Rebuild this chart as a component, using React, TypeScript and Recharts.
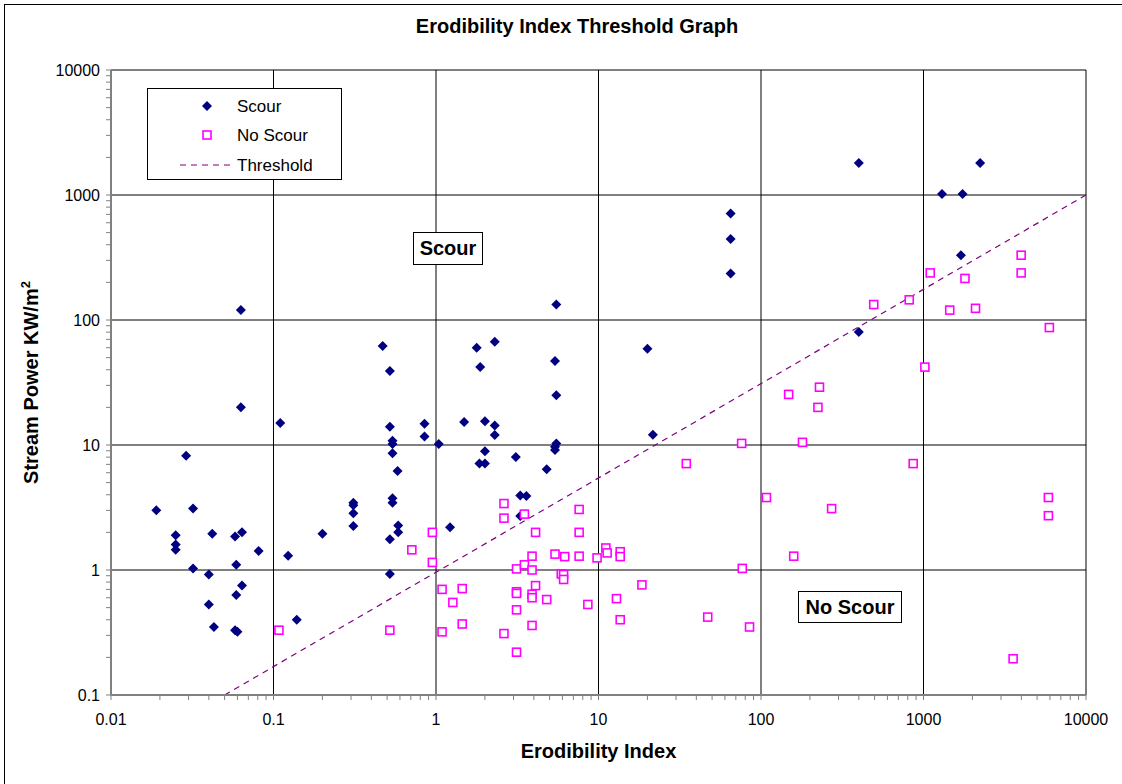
import React from "react";
import { ReferenceLine, Scatter, ScatterChart, XAxis, YAxis } from "recharts";

// Erodibility index (x) vs stream power (y)
const scour = [
  { x: 0.11, y: 15 }, { x: 0.029, y: 8.2 }, { x: 0.019, y: 3.0 }, { x: 0.032, y: 3.1 },
  { x: 0.025, y: 1.9 }, { x: 0.025, y: 1.6 }, { x: 0.025, y: 1.45 }, { x: 0.042, y: 1.95 },
  { x: 0.058, y: 1.85 }, { x: 0.064, y: 2.0 }, { x: 0.081, y: 1.42 }, { x: 0.123, y: 1.3 },
  { x: 0.2, y: 1.95 }, { x: 0.032, y: 1.03 }, { x: 0.059, y: 1.1 }, { x: 0.04, y: 0.92 },
  { x: 0.064, y: 0.75 }, { x: 0.059, y: 0.63 }, { x: 0.04, y: 0.53 }, { x: 0.139, y: 0.4 },
  { x: 0.043, y: 0.35 }, { x: 0.058, y: 0.33 }, { x: 0.06, y: 0.32 }, { x: 0.063, y: 120 },
  { x: 0.063, y: 20 }, { x: 0.47, y: 62 }, { x: 0.52, y: 39 }, { x: 1.78, y: 60 },
  { x: 2.3, y: 67 }, { x: 1.87, y: 42 }, { x: 0.52, y: 14 }, { x: 0.85, y: 14.8 },
  { x: 0.85, y: 11.7 }, { x: 0.54, y: 10.8 }, { x: 0.54, y: 10.2 }, { x: 0.54, y: 8.6 },
  { x: 0.58, y: 6.2 }, { x: 1.04, y: 10.2 }, { x: 1.49, y: 15.3 }, { x: 2.0, y: 15.5 },
  { x: 2.3, y: 14.3 }, { x: 2.3, y: 12 }, { x: 2.0, y: 8.9 }, { x: 1.85, y: 7.1 },
  { x: 2.0, y: 7.1 }, { x: 3.1, y: 8 }, { x: 0.31, y: 3.45 }, { x: 0.31, y: 3.3 },
  { x: 0.31, y: 2.85 }, { x: 0.31, y: 2.25 }, { x: 0.54, y: 3.75 }, { x: 0.54, y: 3.45 },
  { x: 0.585, y: 2.27 }, { x: 0.585, y: 2.0 }, { x: 0.52, y: 1.76 }, { x: 0.52, y: 0.93 },
  { x: 1.22, y: 2.2 }, { x: 3.3, y: 3.95 }, { x: 3.6, y: 3.9 }, { x: 3.3, y: 2.7 },
  { x: 5.5, y: 133 }, { x: 5.4, y: 47 }, { x: 5.5, y: 25 }, { x: 5.5, y: 10.3 },
  { x: 5.4, y: 9.7 }, { x: 5.4, y: 9.1 }, { x: 4.8, y: 6.4 }, { x: 20, y: 59 },
  { x: 21.6, y: 12.1 }, { x: 65, y: 710 }, { x: 65, y: 445 }, { x: 65, y: 235 },
  { x: 400, y: 1800 }, { x: 2230, y: 1800 }, { x: 1300, y: 1020 }, { x: 1740, y: 1020 },
  { x: 1700, y: 330 }, { x: 400, y: 80 },
];

const noScour = [
  { x: 0.108, y: 0.33 }, { x: 0.95, y: 2.0 }, { x: 0.71, y: 1.45 }, { x: 0.95, y: 1.15 },
  { x: 0.52, y: 0.33 }, { x: 1.09, y: 0.7 }, { x: 1.45, y: 0.71 }, { x: 1.27, y: 0.55 },
  { x: 1.45, y: 0.37 }, { x: 1.09, y: 0.32 }, { x: 2.62, y: 3.4 }, { x: 2.62, y: 2.6 },
  { x: 2.62, y: 0.31 }, { x: 3.13, y: 0.22 }, { x: 3.13, y: 1.02 }, { x: 3.13, y: 0.67 },
  { x: 3.13, y: 0.65 }, { x: 3.13, y: 0.48 }, { x: 3.5, y: 2.8 }, { x: 3.5, y: 1.1 },
  { x: 7.6, y: 3.05 }, { x: 7.6, y: 2.0 }, { x: 7.6, y: 1.29 }, { x: 4.1, y: 2.0 },
  { x: 3.9, y: 1.29 }, { x: 3.9, y: 1.0 }, { x: 4.1, y: 0.75 }, { x: 3.9, y: 0.64 },
  { x: 3.9, y: 0.6 }, { x: 3.9, y: 0.36 }, { x: 4.8, y: 0.58 }, { x: 5.4, y: 1.34 },
  { x: 6.2, y: 1.28 }, { x: 5.9, y: 0.93 }, { x: 6.1, y: 0.92 }, { x: 6.1, y: 0.84 },
  { x: 8.6, y: 0.53 }, { x: 9.8, y: 1.25 }, { x: 11.1, y: 1.5 }, { x: 11.3, y: 1.37 },
  { x: 13.6, y: 1.4 }, { x: 13.6, y: 1.28 }, { x: 18.5, y: 0.76 }, { x: 12.9, y: 0.59 },
  { x: 13.6, y: 0.4 }, { x: 47, y: 0.42 }, { x: 34.7, y: 7.1 }, { x: 494, y: 133 },
  { x: 817, y: 145 }, { x: 1100, y: 238 }, { x: 1800, y: 215 }, { x: 1450, y: 120 },
  { x: 2090, y: 124 }, { x: 3990, y: 330 }, { x: 3990, y: 238 }, { x: 5950, y: 87 },
  { x: 1020, y: 42 }, { x: 148, y: 25.4 }, { x: 229, y: 29 }, { x: 224, y: 20 },
  { x: 76, y: 10.3 }, { x: 180, y: 10.5 }, { x: 864, y: 7.1 }, { x: 108, y: 3.8 },
  { x: 272, y: 3.1 }, { x: 5870, y: 3.8 }, { x: 5870, y: 2.72 }, { x: 159, y: 1.29 },
  { x: 76.7, y: 1.03 }, { x: 85, y: 0.35 }, { x: 3560, y: 0.195 },
];

// threshold line end points
const threshold = [
  { x: 0.05, y: 0.1 },
  { x: 10000, y: 1000 },
];

const xMajor = [0.01, 0.1, 1, 10, 100, 1000, 10000];
const yMajor = [0.1, 1, 10, 100, 1000, 10000];
const minorSteps = [2, 3, 4, 5, 6, 7, 8, 9];

const withMinor = (major: number[]) => {
  const out: number[] = [];
  major.forEach((m, i) => {
    out.push(m);
    if (i < major.length - 1) minorSteps.forEach((s) => out.push(+(m * s).toPrecision(3)));
  });
  return out;
};

const xTicks = withMinor(xMajor);
const yTicks = withMinor(yMajor);

const FONT = '"Liberation Sans", Arial, sans-serif';
const NAVY = "#000080";
const PINK = "#FF00FF";
const PURPLE = "#800080";

const Diamond = (props: any) => {
  const { cx, cy } = props;
  if (cx == null || cy == null) return <g />;
  const r = 5;
  return (
    <polygon
      points={`${cx},${cy - r} ${cx + r},${cy} ${cx},${cy + r} ${cx - r},${cy}`}
      fill={NAVY}
    />
  );
};

const Square = (props: any) => {
  const { cx, cy } = props;
  if (cx == null || cy == null) return <g />;
  return (
    <rect x={cx - 4} y={cy - 4} width={8} height={8} fill="#fff" stroke={PINK} strokeWidth={1.6} />
  );
};

const YTitle = (props: any) => {
  const vb = props.viewBox;
  const cx = vb.x + 38;
  const cy = vb.y + vb.height / 2;
  return (
    <text
      x={cx}
      y={cy}
      transform={`rotate(-90, ${cx}, ${cy})`}
      textAnchor="middle"
      fontFamily={FONT}
      fontWeight="bold"
      fontSize={20}
      fill="#000"
    >
      Stream Power KW/m
      <tspan dy={-8} fontSize={13}>
        2
      </tspan>
    </text>
  );
};

const boxText: React.CSSProperties = {
  position: "absolute",
  border: "1.5px solid #000",
  background: "#fff",
  fontFamily: FONT,
  fontWeight: "bold",
  fontSize: 20,
  display: "flex",
  alignItems: "center",
  justifyContent: "center",
  boxSizing: "border-box",
};

export default function App() {
  return (
    <div
      style={{
        position: "absolute",
        left: 0,
        top: 0,
        width: 1122,
        height: 784,
        overflow: "hidden",
        background: "#fff",
        fontFamily: FONT,
      }}
    >
      <div
        style={{
          position: "absolute",
          left: 4,
          top: 4,
          width: 1200,
          height: 900,
          border: "1.5px solid #000",
        }}
      />
      <div
        style={{
          position: "absolute",
          top: 15,
          left: 0,
          width: 1154,
          textAlign: "center",
          fontWeight: "bold",
          fontSize: 20,
        }}
      >
        Erodibility Index Threshold Graph
      </div>
      <ScatterChart
        width={1122}
        height={784}
        margin={{ top: 70, right: 36, bottom: 0, left: 0 }}
        style={{ position: "absolute", left: 0, top: 0, fontFamily: FONT }}
      >
        <XAxis
          type="number"
          dataKey="x"
          scale="log"
          domain={[0.01, 10000]}
          allowDataOverflow
          ticks={xTicks}
          interval={0}
          tickFormatter={(v: number) => (xMajor.includes(v) ? String(v) : "")}
          tick={{ fontSize: 16, fill: "#000" }}
          tickSize={5}
          tickMargin={14}
          height={89}
          axisLine={{ stroke: "#808080", strokeWidth: 2 }}
          tickLine={{ stroke: "#808080" }}
          label={{
            value: "Erodibility Index",
            position: "insideBottom",
            offset: 26,
            fontSize: 20,
            fontWeight: "bold",
            fill: "#000",
          }}
        />
        <YAxis
          type="number"
          dataKey="y"
          scale="log"
          domain={[0.1, 10000]}
          allowDataOverflow
          ticks={yTicks}
          interval={0}
          tickFormatter={(v: number) => (yMajor.includes(v) ? String(v) : "")}
          tick={{ fontSize: 16, fill: "#000" }}
          tickSize={5}
          tickMargin={6}
          width={111}
          axisLine={{ stroke: "#808080", strokeWidth: 2 }}
          tickLine={{ stroke: "#808080" }}
          label={<YTitle />}
        />
        {xMajor.slice(1).map((v) => (
          <ReferenceLine key={`gx${v}`} x={v} stroke="#000" strokeWidth={1} />
        ))}
        {yMajor.slice(1).map((v) => (
          <ReferenceLine key={`gy${v}`} y={v} stroke="#000" strokeWidth={1} />
        ))}
        <ReferenceLine
          segment={threshold}
          stroke={PURPLE}
          strokeWidth={1.2}
          strokeDasharray="6 5"
        />
        <Scatter name="Scour" data={scour} shape={Diamond} isAnimationActive={false} />
        <Scatter name="No Scour" data={noScour} shape={Square} isAnimationActive={false} />
      </ScatterChart>

      {/* legend */}
      <div
        style={{
          position: "absolute",
          left: 147,
          top: 88,
          width: 195,
          height: 92,
          border: "1px solid #000",
          background: "#fff",
          boxSizing: "border-box",
          fontSize: 17,
        }}
      >
        <svg width={195} height={92} style={{ position: "absolute", left: 0, top: 0 }}>
          <polygon points="59,12 64,17 59,22 54,17" fill={NAVY} />
          <rect x={55} y={42} width={8} height={8} fill="#fff" stroke={PINK} strokeWidth={1.6} />
          <line x1={32} y1={76} x2={84} y2={76} stroke={PURPLE} strokeWidth={1.2} strokeDasharray="6 5" />
          <text x={89} y={23} fontFamily={FONT} fontSize={17}>Scour</text>
          <text x={89} y={52} fontFamily={FONT} fontSize={17}>No Scour</text>
          <text x={89} y={82} fontFamily={FONT} fontSize={17}>Threshold</text>
        </svg>
      </div>

      <div style={{ ...boxText, left: 413, top: 232, width: 70, height: 33 }}>Scour</div>
      <div style={{ ...boxText, left: 798, top: 591, width: 104, height: 32 }}>No Scour</div>
    </div>
  );
}
